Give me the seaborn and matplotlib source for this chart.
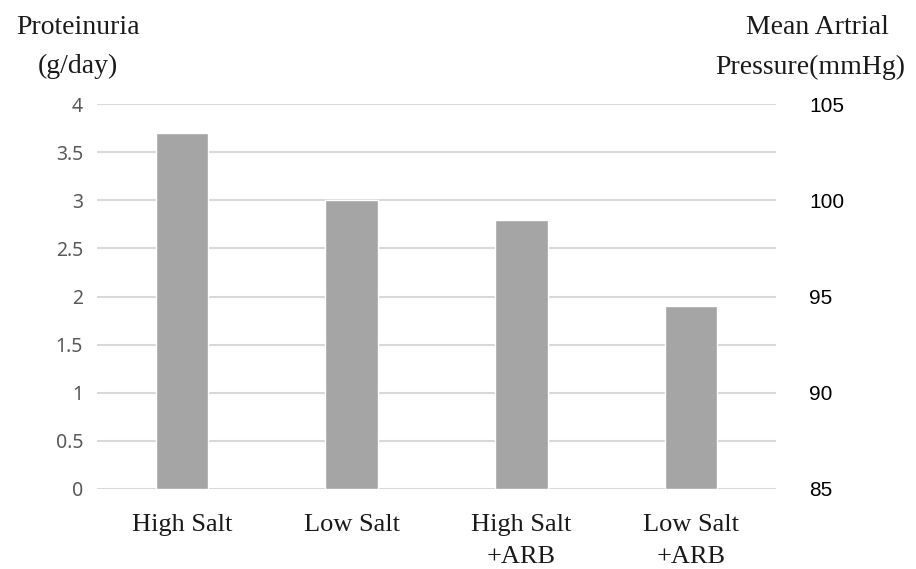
import matplotlib
matplotlib.use("Agg")
import matplotlib.pyplot as plt
import seaborn as sns
import pandas as pd

# Proteinuria per diet group, left axis; right axis shows arterial pressure scale
groups = ["High Salt", "Low Salt", "High Salt\n+ARB", "Low Salt\n+ARB"]
proteinuria = [3.7, 3.0, 2.8, 1.9]
left_ticks = [0, 0.5, 1, 1.5, 2, 2.5, 3, 3.5, 4]
left_tick_labels = ["0", "0.5", "1", "1.5", "2", "2.5", "3", "3.5", "4"]
right_ticks = [85, 90, 95, 100, 105]

df = pd.DataFrame({"group": groups, "proteinuria": proteinuria})

sns.set_theme(style="white")
plt.rcParams["font.family"] = ["Noto Sans", "DejaVu Sans"]
serif = ["Liberation Serif", "DejaVu Serif"]

fig = plt.figure(figsize=(9.16, 5.69), dpi=100)
ax = fig.add_axes([0.1059, 0.1406, 0.7413, 0.6766])

sns.barplot(data=df, x="group", y="proteinuria", color="#a5a5a5",
            saturation=1, width=0.31, ax=ax, zorder=3)

ax.set_ylim(0, 4)
ax.set_yticks(left_ticks)
ax.set_yticklabels(left_tick_labels)
ax.grid(axis="y", color="#d9d9d9", linewidth=1.5, zorder=0)
ax.set_axisbelow(True)
for s in ax.spines.values():
    s.set_visible(False)
ax.tick_params(axis="y", length=0, pad=10, labelsize=14, labelcolor="#595959")
ax.tick_params(axis="x", length=0, pad=18)
ax.set_xlabel("")
ax.set_ylabel("")
for lbl in ax.get_xticklabels():
    lbl.set_family(serif)
    lbl.set_fontsize(19)
    lbl.set_color("#1a1a1a")
    lbl.set_linespacing(1.6)

ax2 = ax.twinx()
ax2.set_ylim(85, 105)
ax2.set_yticks(right_ticks)
for s in ax2.spines.values():
    s.set_visible(False)
ax2.tick_params(axis="y", length=0, pad=24, labelsize=15, labelcolor="#000000")
for lbl in ax2.get_yticklabels():
    lbl.set_family(["Liberation Sans", "DejaVu Sans"])

title_kw = dict(ha="center", va="center", fontsize=20, family=serif, color="#1a1a1a")
fig.text(78 / 916, 1 - 27 / 569, "Proteinuria", **title_kw)
fig.text(78 / 916, 1 - 66 / 569, "(g/day)", **title_kw)
fig.text(817 / 916, 1 - 27 / 569, "Mean Artrial", **title_kw)
fig.text(810 / 916, 1 - 67 / 569, "Pressure(mmHg)", **title_kw)

fig.savefig("out.png", dpi=100, facecolor="white")
